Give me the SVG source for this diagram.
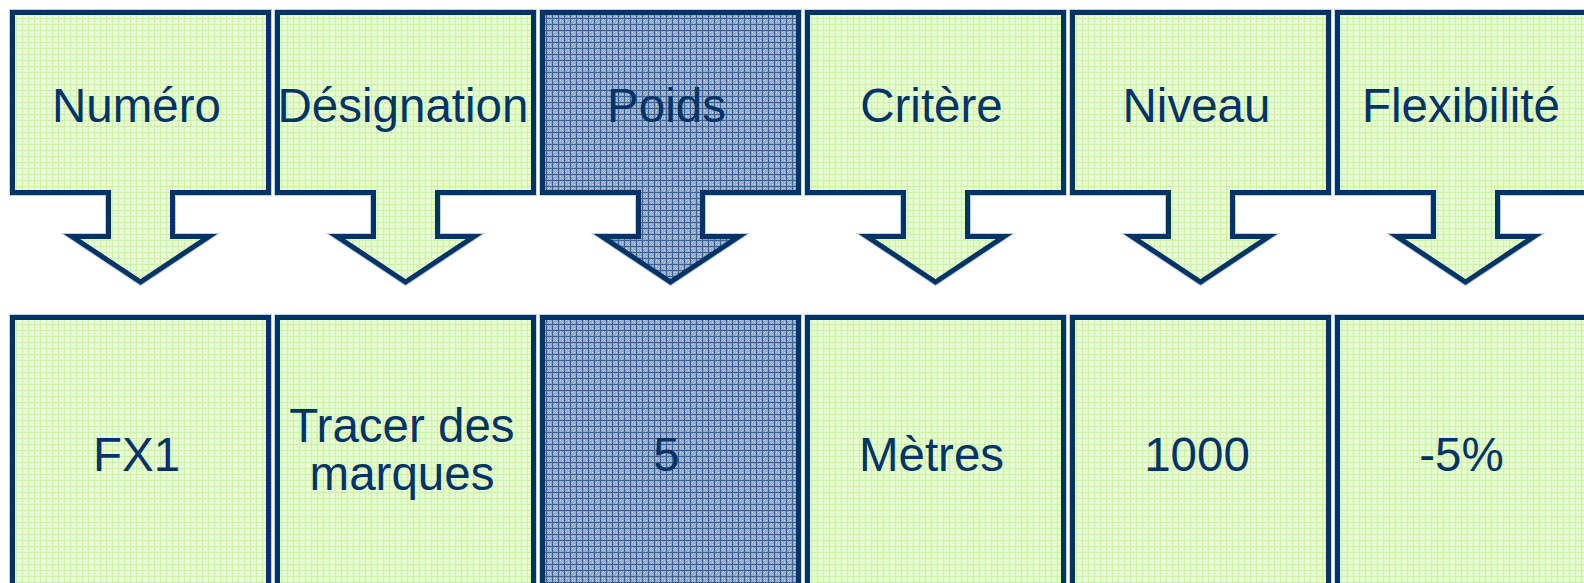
<svg xmlns="http://www.w3.org/2000/svg" width="1584" height="583" viewBox="0 0 1584 583">
  <defs>
    <pattern id="pg" width="6" height="6" patternUnits="userSpaceOnUse">
      <rect width="6" height="6" fill="#e3fbcb"/>
      <rect x="2" y="2" width="1" height="1" fill="#ffffff"/>
      <rect x="4" y="4" width="1" height="1" fill="#ffffff"/>
      <rect x="2" y="4" width="1" height="1" fill="#f4fff0"/>
      <rect x="4" y="2" width="1" height="1" fill="#f4fff0"/>
      <rect x="0" y="0" width="6" height="1" fill="#cdf3a6"/>
      <rect x="0" y="0" width="1" height="6" fill="#cdf3a6"/>
    </pattern>
    <pattern id="pb" width="6" height="6" patternUnits="userSpaceOnUse">
      <rect width="6" height="6" fill="#8ea7cb"/>
      <rect x="2" y="2" width="1" height="1" fill="#d2deee"/>
      <rect x="4" y="4" width="1" height="1" fill="#d2deee"/>
      <rect x="2" y="4" width="1" height="1" fill="#a9bdda"/>
      <rect x="4" y="2" width="1" height="1" fill="#a9bdda"/>
      <rect x="0" y="0" width="6" height="1" fill="#3b6399"/>
      <rect x="0" y="0" width="1" height="6" fill="#3b6399"/>
    </pattern>
    <path id="arrowShape" d="M2.5,12.5 H258.5 V192.5 H162.5 V236.5 H199 L130.5,282 L62,236.5 H98.5 V192.5 H2.5 Z"/>
    <rect id="boxShape" x="2.5" y="317.5" width="256" height="300"/>
  </defs>
  <style>
    .halo { fill: none; stroke: #c3d0e0; stroke-width: 7; stroke-linejoin: miter; }
    .g { fill: url(#pg); stroke: #003366; stroke-width: 5; stroke-linejoin: miter; }
    .b { fill: url(#pb); stroke: #003366; stroke-width: 5; stroke-linejoin: miter; }
    .t { font-family: "Liberation Sans", Arial, sans-serif; font-size: 47.5px; fill: #003366; text-anchor: middle; }
  </style>

  <g id="head-numero" transform="translate(10,0)">
    <use href="#arrowShape" class="halo"/><use href="#arrowShape" class="g"/>
    <text class="t" x="126.5" y="122">Numéro</text>
  </g>
  <g id="head-designation" transform="translate(275,0)">
    <use href="#arrowShape" class="halo"/><use href="#arrowShape" class="g"/>
    <text class="t" x="128" y="122">Désignation</text>
  </g>
  <g id="head-poids" transform="translate(540,0)">
    <use href="#arrowShape" class="halo"/><use href="#arrowShape" class="b"/>
    <text class="t" x="126.5" y="122">Poids</text>
  </g>
  <g id="head-critere" transform="translate(805,0)">
    <use href="#arrowShape" class="halo"/><use href="#arrowShape" class="g"/>
    <text class="t" x="126.5" y="122">Critère</text>
  </g>
  <g id="head-niveau" transform="translate(1070,0)">
    <use href="#arrowShape" class="halo"/><use href="#arrowShape" class="g"/>
    <text class="t" x="126.5" y="122">Niveau</text>
  </g>
  <g id="head-flexibilite" transform="translate(1335,0)">
    <use href="#arrowShape" class="halo"/><use href="#arrowShape" class="g"/>
    <text class="t" x="126" y="122">Flexibilité</text>
  </g>

  <g id="val-numero" transform="translate(10,0)">
    <use href="#boxShape" class="halo"/><use href="#boxShape" class="g"/>
    <text class="t" x="126.5" y="471">FX1</text>
  </g>
  <g id="val-designation" transform="translate(275,0)">
    <use href="#boxShape" class="halo"/><use href="#boxShape" class="g"/>
    <text class="t" x="127" y="441.5">Tracer des</text>
    <text class="t" x="127" y="490">marques</text>
  </g>
  <g id="val-poids" transform="translate(540,0)">
    <use href="#boxShape" class="halo"/><use href="#boxShape" class="b"/>
    <text class="t" x="126.5" y="471">5</text>
  </g>
  <g id="val-critere" transform="translate(805,0)">
    <use href="#boxShape" class="halo"/><use href="#boxShape" class="g"/>
    <text class="t" x="126.5" y="471">Mètres</text>
  </g>
  <g id="val-niveau" transform="translate(1070,0)">
    <use href="#boxShape" class="halo"/><use href="#boxShape" class="g"/>
    <text class="t" x="127" y="471">1000</text>
  </g>
  <g id="val-flexibilite" transform="translate(1335,0)">
    <use href="#boxShape" class="halo"/><use href="#boxShape" class="g"/>
    <text class="t" x="126.5" y="471">-5%</text>
  </g>
</svg>
